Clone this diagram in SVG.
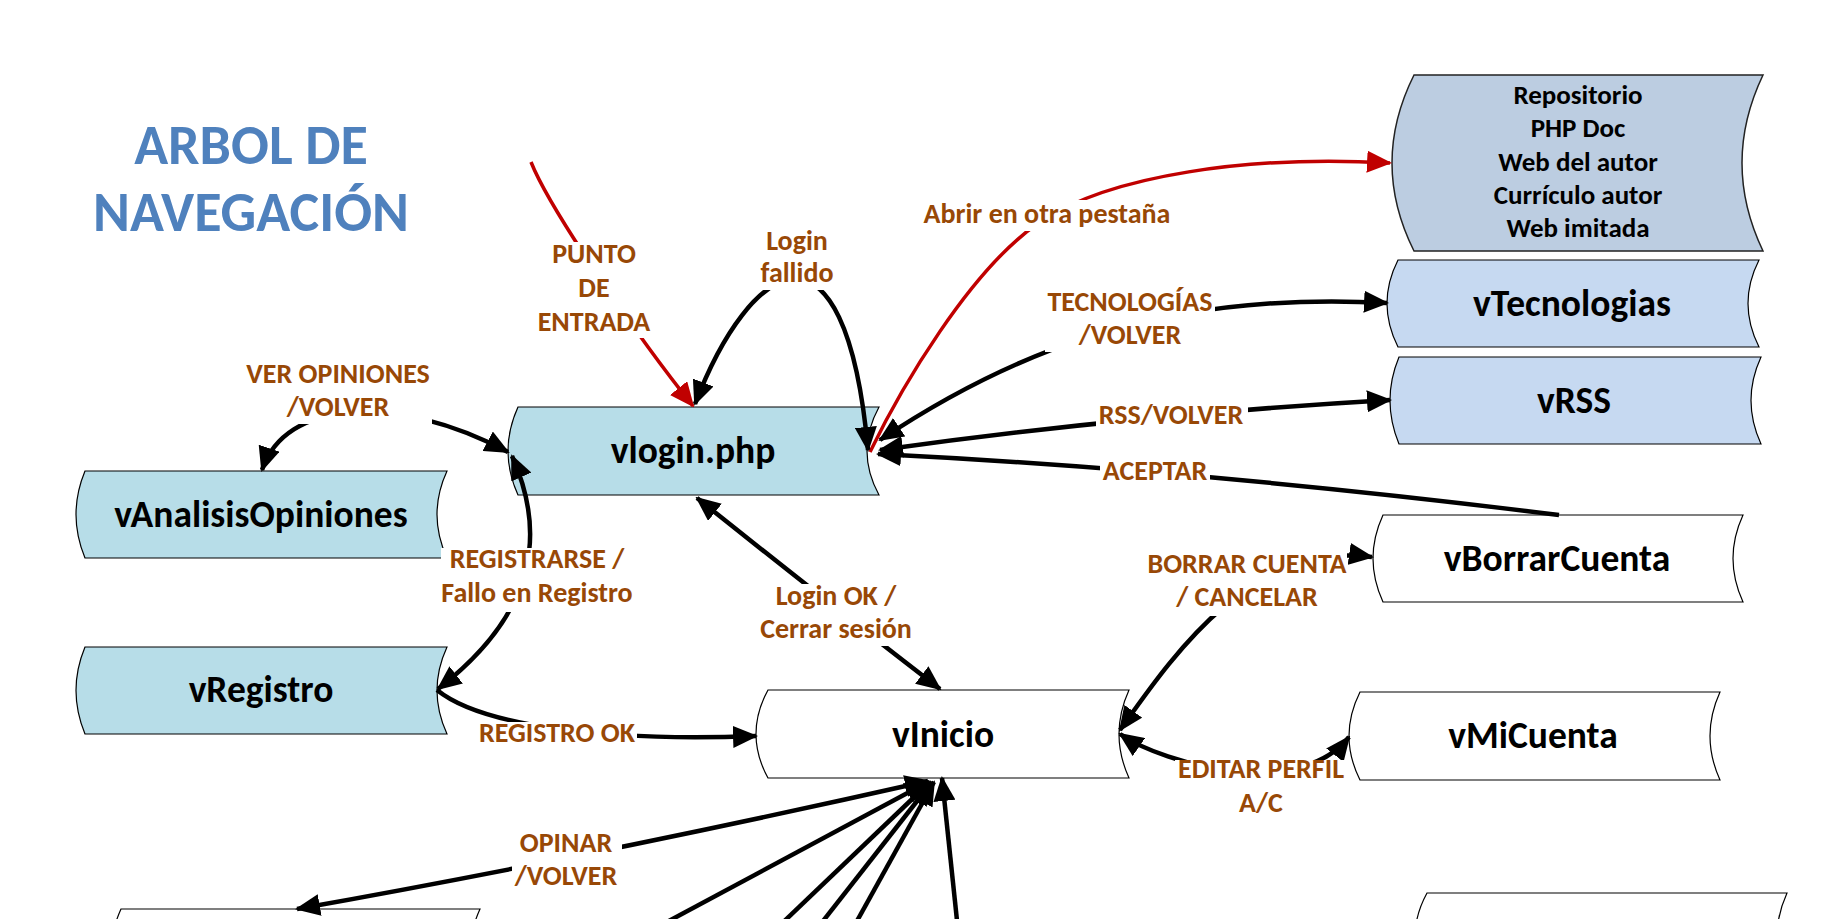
<svg xmlns="http://www.w3.org/2000/svg" width="1842" height="919" viewBox="0 0 1842 919">
<style>
.node{stroke:#000;stroke-width:1.2}
.blue{fill:#b7dde8}
.lb{fill:#c6d9f1}
.gb{fill:#bccde1;stroke:#222;stroke-width:1.5}
.wh{fill:#fff}
.nt{font-family:Carlito,Lato,"Open Sans",sans-serif;font-weight:bold;font-size:37.5px;fill:#000;text-anchor:middle}
.st{font-family:Carlito,Lato,"Open Sans",sans-serif;font-weight:bold;font-size:27px;fill:#000;text-anchor:middle}
.lt{font-family:Carlito,Lato,"Open Sans",sans-serif;font-weight:bold;font-size:28px;fill:#984806;text-anchor:middle}
.title{font-family:Carlito,Lato,"Open Sans",sans-serif;font-weight:bold;font-size:56px;fill:#4f81bd;text-anchor:middle}
.bg{fill:#fff}
.c{fill:none;stroke:#000;stroke-width:4.5}
.r{fill:none;stroke:#c00000;stroke-width:3.5}
</style>
<defs>
<marker id="a" viewBox="0 0 25 22" refX="23" refY="11" markerWidth="25" markerHeight="22" markerUnits="userSpaceOnUse" orient="auto-start-reverse"><path d="M0,0L25,11L0,22Z" fill="#000"/></marker>
<marker id="ar" viewBox="0 0 25 22" refX="23" refY="11" markerWidth="25" markerHeight="22" markerUnits="userSpaceOnUse" orient="auto-start-reverse"><path d="M0,0L25,11L0,22Z" fill="#c00000"/></marker>
</defs>
<rect width="1842" height="919" fill="#fff"/>
<g id="title">
<text class="title" x="251" y="164">ARBOL DE</text>
<text class="title" x="251" y="231">NAVEGACIÓN</text>
</g>
<g id="nodes">
<g id="n-links"><path class="gb" d="M1414,75 H1763 Q1721,163 1763,251 H1414 Q1370,163 1414,75 Z"/>
<text class="st" x="1578" y="104">Repositorio</text><text class="st" x="1578" y="137">PHP Doc</text><text class="st" x="1578" y="171">Web del autor</text><text class="st" x="1578" y="204">Currículo autor</text><text class="st" x="1578" y="237">Web imitada</text></g>
<g id="n-vtecnologias"><path class="node lb" d="M1398,260 H1759 Q1737,303.5 1759,347 H1398 Q1376,303.5 1398,260 Z"/><text class="nt" x="1572" y="316">vTecnologias</text></g>
<g id="n-vrss"><path class="node lb" d="M1399,357 H1761 Q1741,400.5 1761,444 H1399 Q1381,400.5 1399,357 Z"/><text class="nt" x="1574" y="413">vRSS</text></g>
<g id="n-vlogin"><path class="node blue" d="M518,407 H879 Q855,451 879,495 H518 Q498,451 518,407 Z"/><text class="nt" x="693" y="463">vlogin.php</text></g>
<g id="n-vanalisis"><path class="node blue" d="M85,471 H447 Q427,514.5 447,558 H85 Q67,514.5 85,471 Z"/><text class="nt" x="261" y="527">vAnalisisOpiniones</text></g>
<g id="n-vregistro"><path class="node blue" d="M85,647 H447 Q427,690.5 447,734 H85 Q67,690.5 85,647 Z"/><text class="nt" x="261" y="702">vRegistro</text></g>
<g id="n-vinicio"><path class="node wh" d="M768,690 H1129 Q1109,734 1129,778 H768 Q744,734 768,690 Z"/><text class="nt" x="943" y="747">vInicio</text></g>
<g id="n-vborrar"><path class="node wh" d="M1383,515 H1743 Q1723,558.5 1743,602 H1383 Q1363,558.5 1383,515 Z"/><text class="nt" x="1557" y="571">vBorrarCuenta</text></g>
<g id="n-vmicuenta"><path class="node wh" d="M1360,692 H1720 Q1700,736 1720,780 H1360 Q1338,736 1360,692 Z"/><text class="nt" x="1533" y="748">vMiCuenta</text></g>
<g id="n-bottomright"><path class="node wh" d="M1427,893 H1787 Q1767,937 1787,981 H1427 Q1403,937 1427,893 Z"/></g>
<g id="n-bottomleft"><path class="node wh" d="M121,909 H480 Q460,953 480,997 H121 Q101,953 121,909 Z"/></g>
</g>
<g id="connectors">
<path class="r" d="M531,162 C550,210 640,340 693,406" marker-end="url(#ar)"/>
<path class="r" d="M870,452 C900,390 970,269 1040,222 C1110,175 1250,155 1390,163" marker-end="url(#ar)"/>
<path class="c" d="M695,404 C750,260 845,200 868,450" marker-start="url(#a)" marker-end="url(#a)"/>
<path class="c" d="M880,440 C1000,360 1150,290 1387,303" marker-start="url(#a)" marker-end="url(#a)"/>
<path class="c" d="M880,450 Q1130,415 1390,400" marker-start="url(#a)" marker-end="url(#a)"/>
<path class="c" d="M1559,515 Q1200,470 878,454" marker-end="url(#a)"/>
<path class="c" d="M262,470 C285,400 395,392 508,452" marker-start="url(#a)" marker-end="url(#a)"/>
<path class="c" d="M512,456 C545,530 540,610 438,689" marker-start="url(#a)" marker-end="url(#a)"/>
<path class="c" d="M437,690 C480,725 600,742 756,736" marker-end="url(#a)"/>
<path class="c" d="M697,498 Q850,620 940,689" marker-start="url(#a)" marker-end="url(#a)"/>
<path class="c" d="M1120,730 C1170,660 1250,540 1372,557" marker-start="url(#a)" marker-end="url(#a)"/>
<path class="c" d="M1120,734 C1165,765 1300,800 1349,737" marker-start="url(#a)" marker-end="url(#a)"/>
<path class="c" d="M297,909 Q600,855 928,781" marker-start="url(#a)" marker-end="url(#a)"/>
<path class="c" d="M652,930 L928,782" marker-end="url(#a)"/>
<path class="c" d="M775,930 L930,782" marker-end="url(#a)"/>
<path class="c" d="M816,930 L932,782" marker-end="url(#a)"/>
<path class="c" d="M852,930 L934,782" marker-end="url(#a)"/>
<path class="c" d="M958,930 L942,778" marker-end="url(#a)"/>
</g>
<g id="labels">
<rect class="bg" x="535" y="242" width="118" height="96"/>
<text class="lt" x="594" y="263">PUNTO</text><text class="lt" x="594" y="297">DE</text><text class="lt" x="594" y="331">ENTRADA</text>
<rect class="bg" x="756" y="230" width="82" height="60"/>
<text class="lt" x="797" y="250">Login</text><text class="lt" x="797" y="282">fallido</text>
<rect class="bg" x="921" y="200" width="253" height="31"/>
<text class="lt" x="1047" y="223">Abrir en otra pestaña</text>
<rect class="bg" x="1045" y="288" width="170" height="64"/>
<text class="lt" x="1130" y="311">TECNOLOGÍAS</text><text class="lt" x="1130" y="344">/VOLVER</text>
<rect class="bg" x="1096" y="402" width="152" height="28"/>
<text class="lt" x="1171" y="424">RSS/VOLVER</text>
<rect class="bg" x="1100" y="459" width="110" height="27"/>
<text class="lt" x="1155" y="480">ACEPTAR</text>
<rect class="bg" x="244" y="362" width="188" height="62"/>
<text class="lt" x="338" y="383">VER OPINIONES</text><text class="lt" x="338" y="416">/VOLVER</text>
<rect class="bg" x="441" y="548" width="194" height="64"/>
<text class="lt" x="537" y="568">REGISTRARSE /</text><text class="lt" x="537" y="602">Fallo en Registro</text>
<rect class="bg" x="758" y="584" width="156" height="62"/>
<text class="lt" x="836" y="605">Login OK /</text><text class="lt" x="836" y="638">Cerrar sesión</text>
<rect class="bg" x="477" y="722" width="160" height="27"/>
<text class="lt" x="557" y="742">REGISTRO OK</text>
<rect class="bg" x="1145" y="552" width="202" height="64"/>
<text class="lt" x="1247" y="573">BORRAR CUENTA</text><text class="lt" x="1247" y="606">/ CANCELAR</text>
<rect class="bg" x="1175" y="760" width="172" height="60"/>
<text class="lt" x="1261" y="778">EDITAR PERFIL</text><text class="lt" x="1261" y="812">A/C</text>
<rect class="bg" x="512" y="830" width="110" height="62"/>
<text class="lt" x="566" y="852">OPINAR</text><text class="lt" x="566" y="885">/VOLVER</text>
</g>
</svg>
